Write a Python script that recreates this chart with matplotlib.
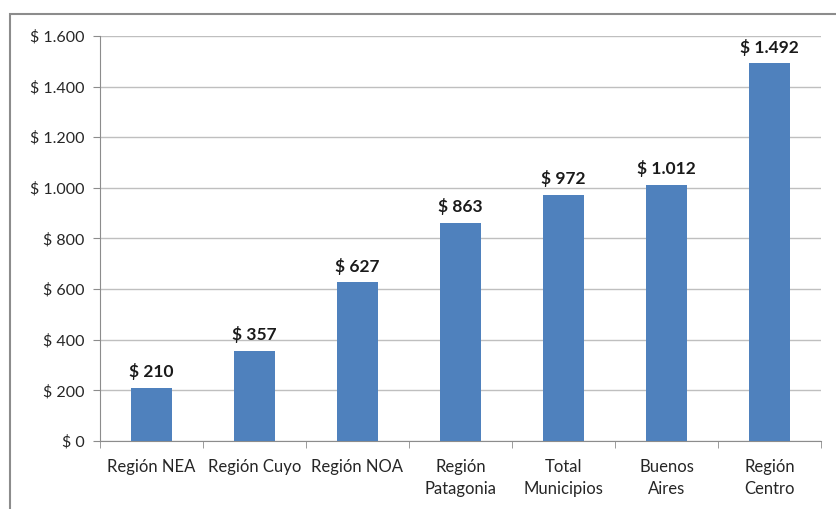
import matplotlib
matplotlib.use("Agg")
import matplotlib.pyplot as plt
from matplotlib.patches import Rectangle

# ── data ──────────────────────────────────────────────────────────────────────
categories = ["Región NEA", "Región Cuyo", "Región NOA", "Región\nPatagonia",
              "Total\nMunicipios", "Buenos\nAires", "Región\nCentro"]
values = [210, 357, 627, 863, 972, 1012, 1492]
yticks = [0, 200, 400, 600, 800, 1000, 1200, 1400, 1600]


def peso(v):
    return "$ " + f"{v:,}".replace(",", ".")


plt.rcParams["font.family"] = ["Lato", "DejaVu Sans"]

fig = plt.figure(figsize=(8.37, 5.09), dpi=100)
ax = fig.add_axes([100 / 837, 1 - 441 / 509, 721 / 837, 405 / 509])

# outer chart border
fig.patches.append(Rectangle((10 / 837, -0.01), 1.0, 1 - 14 / 509 + 0.01,
                             transform=fig.transFigure, fill=False,
                             edgecolor="#8c8c8c", lw=1.5))

x = range(len(categories))
ax.bar(x, values, width=0.39, color="#4F81BD", zorder=3)
for xi, v in zip(x, values):
    ax.text(xi, v + 30, peso(v), ha="center", va="bottom",
            fontsize=12.5, fontweight="bold", color="#1a1a1a")

ax.set_xlim(-0.5, len(categories) - 0.5)
ax.set_ylim(0, 1600)
ax.set_yticks(yticks)
ax.set_yticklabels([peso(v) for v in yticks], fontsize=11.5, color="#262626")
ax.yaxis.grid(True, color="#bfbfbf", lw=1, zorder=0)

ax.set_xticks(list(x))
ax.set_xticklabels(categories, fontsize=12, color="#262626", linespacing=1.45)
ax.tick_params(axis="x", length=0, pad=13)
ax.set_xticks([i - 0.5 for i in range(len(categories) + 1)], minor=True)
ax.tick_params(axis="x", which="minor", length=5, color="#8c8c8c")
ax.tick_params(axis="y", length=5, color="#8c8c8c", pad=6)

for s in ["top", "right"]:
    ax.spines[s].set_visible(False)
for s in ["left", "bottom"]:
    ax.spines[s].set_color("#8c8c8c")

plt.savefig("out.png", dpi=100)
